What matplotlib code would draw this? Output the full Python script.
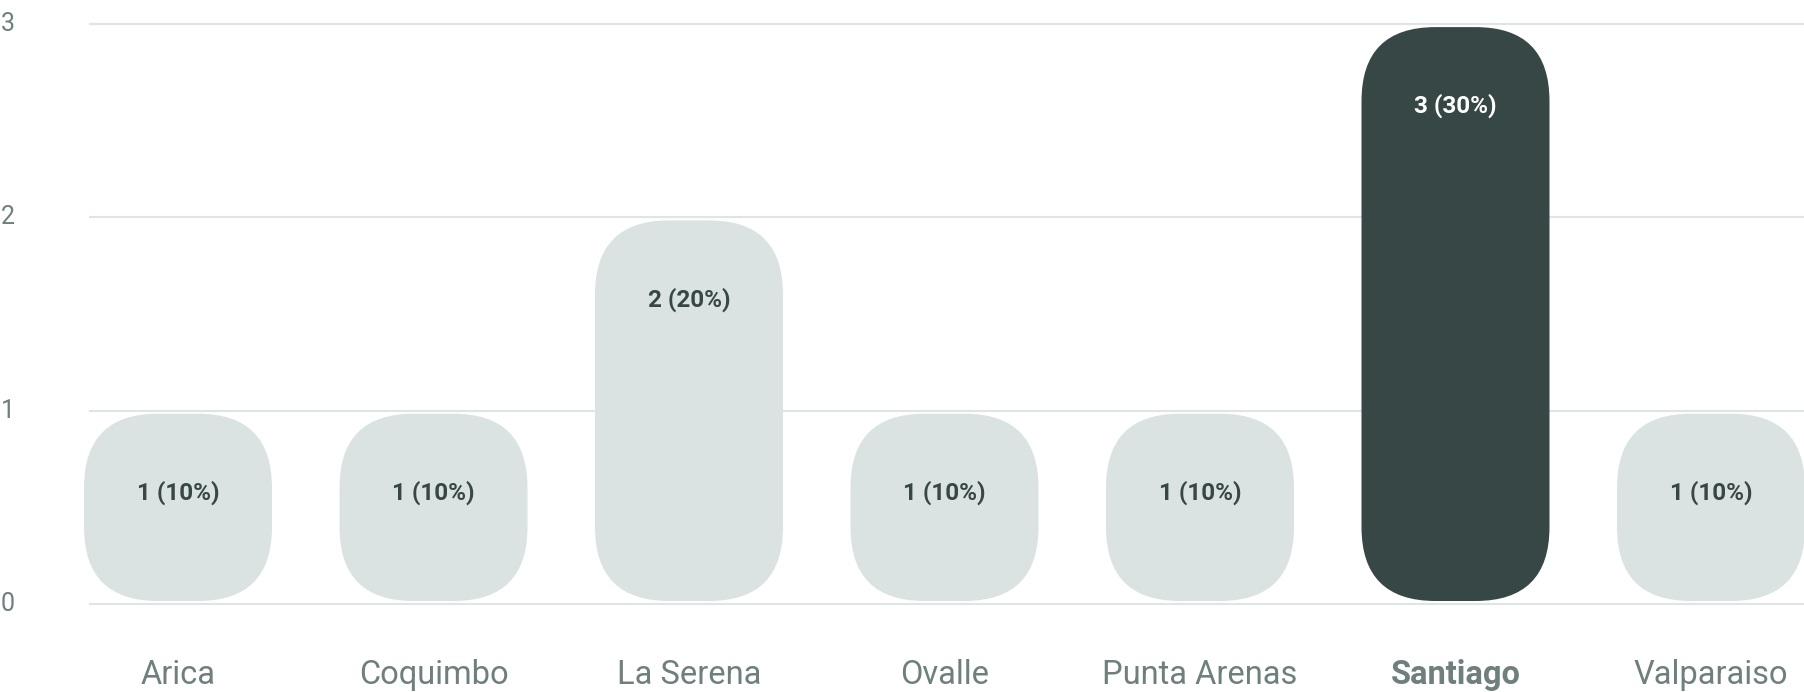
import matplotlib.pyplot as plt
import matplotlib.transforms as mtransforms
from matplotlib.patches import FancyBboxPatch

plt.rcParams['font.family'] = ['Roboto', 'DejaVu Sans']

cities = ['Arica', 'Coquimbo', 'La Serena', 'Ovalle', 'Punta Arenas', 'Santiago', 'Valparaiso']
counts = [1, 1, 2, 1, 1, 3, 1]
percents = [10, 10, 20, 10, 10, 30, 10]
highlight = 'Santiago'
yticks = [0, 1, 2, 3]

light = '#dbe3e2'
dark = '#374746'
grey = '#6f7f7e'
grid_c = '#dfe5e5'

W, H = 1804, 692
# pixel layout of the reference
x0_px, step_px = 178, 255.5
y0_px, unit_px = 604, 193.3

fig = plt.figure(figsize=(W / 100, H / 100), dpi=100)
ax = fig.add_axes([0, 0, 1, 1])
ax.set_xlim(-x0_px / step_px, (W - x0_px) / step_px)
ax.set_ylim(-(H - y0_px) / unit_px, y0_px / unit_px)
ax.axis('off')

# gridlines
grid_start = (90 - x0_px) / step_px
for t in yticks:
    ax.plot([grid_start, ax.get_xlim()[1]], [t, t], color=grid_c, lw=1.5, zorder=0)

xtr = mtransforms.blended_transform_factory(ax.transAxes, ax.transData)
for t in yticks:
    ax.text(1 / W, t + 0.0, str(t), transform=xtr, ha='left', va='center',
            fontsize=18, color=grey)

bar_w = 188 / step_px
bars = ax.bar(range(len(cities)), counts, width=bar_w)
rad = 74 / step_px
aspect = step_px / unit_px
inset = 3 / unit_px
for i, b in enumerate(bars):
    col = dark if cities[i] == highlight else light
    p = FancyBboxPatch((b.get_x(), inset), b.get_width(), b.get_height() - 2 * inset,
                       boxstyle='round,pad=0,rounding_size=%f' % rad,
                       mutation_aspect=aspect, fc=col, ec='none', zorder=2)
    ax.add_patch(p)
    b.remove()
    tc = 'white' if cities[i] == highlight else dark
    ax.text(b.get_x() + b.get_width() / 2, counts[i] - 82 / unit_px,
            '%d (%d%%)' % (counts[i], percents[i]), ha='center', va='center',
            fontsize=17.5, fontweight='bold', color=tc, zorder=3)

for i, c in enumerate(cities):
    ax.text(i, -(675 - y0_px) / unit_px, c, ha='center', va='center', fontsize=23.5,
            color=grey, fontweight='bold' if c == highlight else 'normal')

fig.savefig('out.png', dpi=100)
